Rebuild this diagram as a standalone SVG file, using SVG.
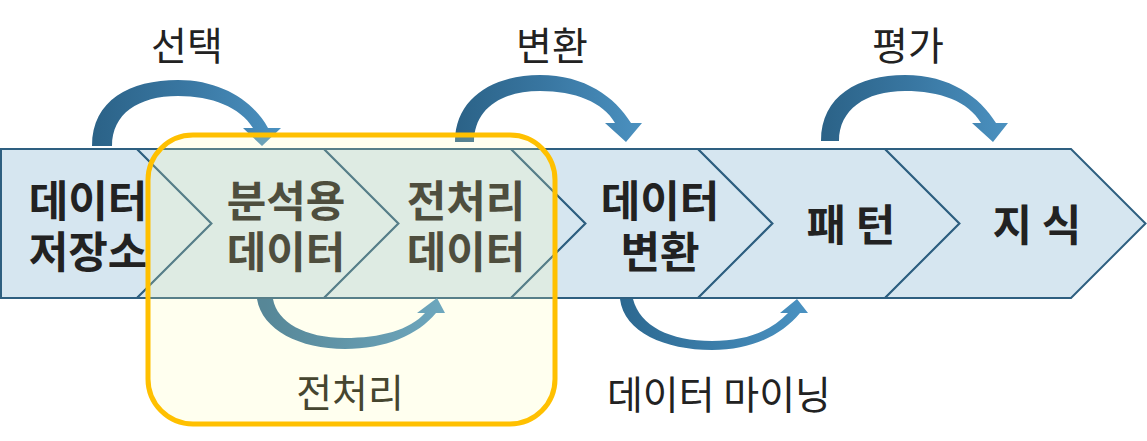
<svg xmlns="http://www.w3.org/2000/svg" width="1147" height="441" viewBox="0 0 1147 441">
<style>
.band{fill:#d6e6f0;stroke:#2e5f80;stroke-width:2;stroke-linejoin:miter}
.nt{font-family:"Noto Sans CJK KR","Noto Sans",sans-serif;font-weight:bold;font-size:43px;fill:#222;text-anchor:middle}
.lb{font-family:"Noto Sans CJK KR","Noto Sans",sans-serif;font-size:39px;fill:#222;text-anchor:middle}
</style>
<defs>
<linearGradient id="gTop" x1="0" y1="0" x2="1" y2="0">
<stop offset="0" stop-color="#2b6287"/>
<stop offset="0.5" stop-color="#3977a2"/>
<stop offset="1" stop-color="#4b91c0"/>
</linearGradient>
<linearGradient id="gBot" x1="0" y1="0" x2="1" y2="0">
<stop offset="0" stop-color="#2c6890"/>
<stop offset="1" stop-color="#4a92c2"/>
</linearGradient>
</defs>
<rect width="1147" height="441" fill="#fff"/>
<g id="node-storage">
<path class="band" d="M1,149 L137,149 L211.5,223.5 L137,298 L1,298 Z"/>
<text class="nt" x="88" y="217">데이터</text>
<text class="nt" x="88" y="268">저장소</text>
</g>
<g id="node-analysis">
<path class="band" d="M137,149 L324,149 L398.5,223.5 L324,298 L137,298 L211.5,223.5 Z"/>
<text class="nt" x="286" y="217">분석용</text>
<text class="nt" x="286" y="268">데이터</text>
</g>
<g id="node-preprocessed">
<path class="band" d="M324,149 L511,149 L585.5,223.5 L511,298 L324,298 L398.5,223.5 Z"/>
<text class="nt" x="466" y="217">전처리</text>
<text class="nt" x="466" y="268">데이터</text>
</g>
<g id="node-transform">
<path class="band" d="M511,149 L698,149 L772.5,223.5 L698,298 L511,298 L585.5,223.5 Z"/>
<text class="nt" x="660" y="217">데이터</text>
<text class="nt" x="660" y="268">변환</text>
</g>
<g id="node-pattern">
<path class="band" d="M698,149 L885,149 L959.5,223.5 L885,298 L698,298 L772.5,223.5 Z"/>
<text class="nt" x="851" y="241">패 턴</text>
</g>
<g id="node-knowledge">
<path class="band" d="M885,149 L1071,149 L1145.5,223.5 L1071,298 L885,298 L959.5,223.5 Z"/>
<text class="nt" x="1037" y="241">지 식</text>
</g>
<g id="connectors">
<path fill="url(#gTop)" d="M92,146 C92,100 130,80 178,80 C222,80 254,102 268,128 L281,128 L262,146 L243,128 L253,128 C240,107 212,96 178,96 C138,96 112,114 112,146 Z"/>
<path fill="url(#gTop)" d="M455,142 C455,97 495,75 540,75 C585,75 615,97 631,123 L642,123 L626,142 L605,123 L615,123 C603,102 575,91 540,91 C500,91 474,110 474,142 Z"/>
<path fill="url(#gTop)" d="M821,141 C821,96 858,75 905,75 C950,75 980,97 996,123 L1008,123 L993,142 L972,123 L981,123 C968,101 940,91 905,91 C865,91 839,110 839,141 Z"/>
<path fill="url(#gBot)" d="M257,299 C262,330 300,349 345,349 C385,349 418,335 436,313 L445,313 L437,298 L417,313 L425,313 C410,330 380,338 345,338 C305,338 277,322 273,299 Z"/>
<path fill="url(#gBot)" d="M620,299 C624,332 665,350 712,350 C752,350 782,335 800,313 L808,313 L797,299 L780,313 L788,313 C770,332 745,341 712,341 C670,341 640,326 633,299 Z"/>
</g>
<g id="group-preprocess">
<rect x="148" y="135" width="407" height="289" rx="45" fill="#ffffb0" fill-opacity="0.2"/>
<rect x="148" y="135" width="407" height="289" rx="45" fill="none" stroke="#ffc000" stroke-width="5"/>
<text class="lb" x="350" y="407" style="fill:#46462f">전처리</text>
</g>
<g id="labels">
<text class="lb" x="187" y="60">선택</text>
<text class="lb" x="552" y="60">변환</text>
<text class="lb" x="908" y="60">평가</text>
<text class="lb" x="719" y="409">데이터 마이닝</text>
</g>
</svg>
